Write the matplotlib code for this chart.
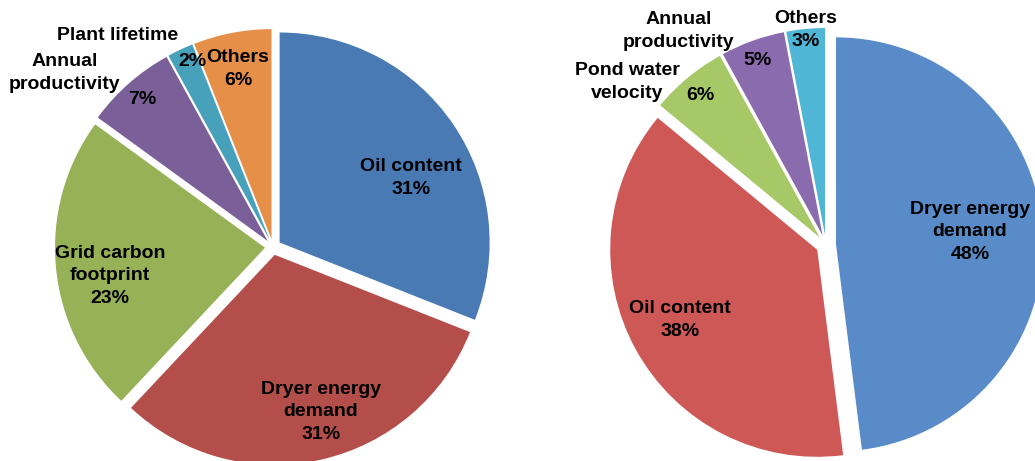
import matplotlib.pyplot as plt

W, H = 1035, 461

# left pie
left_names = ["Oil content", "Dryer energy\ndemand", "Grid carbon\nfootprint",
              "Annual\nproductivity", "Plant lifetime", "Others"]
left_vals = [31, 31, 23, 7, 2, 6]
left_colors = ["#4a7ab4", "#b44e4b", "#97b156", "#7a5f98", "#48a1bb", "#e58f49"]

# right pie
right_names = ["Dryer energy\ndemand", "Oil content", "Pond water\nvelocity",
               "Annual\nproductivity", "Others"]
right_vals = [48, 38, 6, 5, 3]
right_colors = ["#588bc8", "#cd5856", "#a6c866", "#8a6cae", "#4fb6d5"]

plt.rcParams['font.family'] = ['Liberation Sans', 'DejaVu Sans']

fig = plt.figure(figsize=(W / 100, H / 100), dpi=100)
ax = fig.add_axes([0, 0, 1, 1])


def draw_pie(vals, colors, center, radius, gap):
    # explode is an absolute offset in data units here
    ax.pie(vals, colors=colors, startangle=90, counterclock=False,
           center=(center[0], H - center[1]), radius=radius,
           explode=[gap] * len(vals),
           wedgeprops=dict(linewidth=0))


draw_pie(left_vals, left_colors, (273, 247), 210, 8)
draw_pie(right_vals, right_colors, (826, 245), 207, 10)

ax.set_xlim(0, W)
ax.set_ylim(0, H)
ax.set_aspect('equal')
ax.axis('off')


def label(x, y, s):
    ax.text(x, H - y, s, ha='center', va='center', fontsize=14,
            fontweight='bold', linespacing=1.45, color='black')


def pct(v):
    return f"{v}%"


# label placement (name, value) per slice
label(411, 178, left_names[0] + "\n" + pct(left_vals[0]))
label(321, 412, left_names[1] + "\n" + pct(left_vals[1]))
label(110, 276, left_names[2] + "\n" + pct(left_vals[2]))
label(65, 73, left_names[3])
label(142, 100, pct(left_vals[3]))
label(118, 36, left_names[4])
label(192, 62, pct(left_vals[4]))
label(238, 69, left_names[5] + "\n" + pct(left_vals[5]))

label(970, 232, right_names[0] + "\n" + pct(right_vals[0]))
label(680, 320, right_names[1] + "\n" + pct(right_vals[1]))
label(627, 82, right_names[2])
label(700, 96, pct(right_vals[2]))
label(679, 31, right_names[3])
label(757, 61, pct(right_vals[3]))
label(806, 30, right_names[4] + "\n" + pct(right_vals[4]))

fig.savefig("out.png", dpi=100)
